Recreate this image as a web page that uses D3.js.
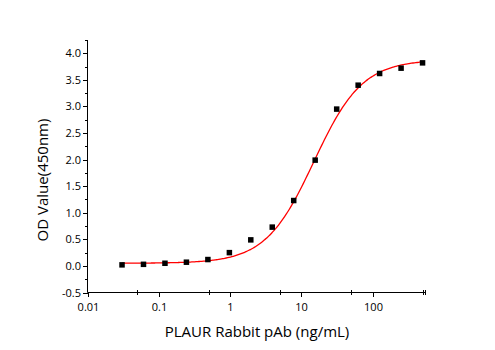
<!DOCTYPE html>
<html><head><meta charset="utf-8">
<script src="https://cdn.jsdelivr.net/npm/d3@7"></script>
<style>body{margin:0;background:#fff}svg{display:block}text{font-family:"Open Sans",sans-serif;fill:#000}</style>
</head><body><svg id="c" width="495" height="350"></svg>
<script>
const concentrations = [0.0305, 0.061, 0.122, 0.244, 0.488, 0.977, 1.95, 3.9, 7.8, 15.6, 31.25, 62.5, 125, 250, 500];
const odValues = [0.02, 0.03, 0.05, 0.07, 0.12, 0.25, 0.49, 0.73, 1.23, 1.99, 2.95, 3.40, 3.62, 3.72, 3.82];
const xTickLabels = ["0.01", "0.1", "1", "10", "100"];
const yTickLabels = ["-0.5","0.0","0.5","1.0","1.5","2.0","2.5","3.0","3.5","4.0"];
// 4PL fit parameters
const fitBottom = 0.05, fitTop = 3.88, fitEC50 = 15, fitHill = 1.28;

const svg = d3.select("#c");
const x = d3.scaleLog().domain([0.01, 550]).range([87.5, 425.5]);
const y = d3.scaleLinear().domain([-0.5, 4.25]).range([292.5, 40]);

const g = svg.append("g");
g.append("line").attr("x1",87.5).attr("x2",87.5).attr("y1",y(4.25)).attr("y2",y(-0.5)).attr("stroke","#000");
g.append("line").attr("x1",87.5).attr("x2",x(550)).attr("y1",292.5).attr("y2",292.5).attr("stroke","#000");

yTickLabels.forEach(t=>{
  const v=+t, yy=Math.round(y(v))+0.5;
  g.append("line").attr("x1",83).attr("x2",88).attr("y1",yy).attr("y2",yy).attr("stroke","#000");
  g.append("text").attr("x",81).attr("y",yy).attr("dy","0.35em").attr("text-anchor","end").attr("font-size",11).text(t);
});
d3.range(-0.25, 4.3, 0.5).forEach(v=>{
  const yy=Math.round(y(v))+0.5;
  g.append("line").attr("x1",85).attr("x2",88).attr("y1",yy).attr("y2",yy).attr("stroke","#000");
});
xTickLabels.forEach(t=>{
  const xx=Math.round(x(+t))+0.5;
  g.append("line").attr("x1",xx).attr("x2",xx).attr("y1",292).attr("y2",297).attr("stroke","#000");
  g.append("text").attr("x",xx).attr("y",311).attr("text-anchor","middle").attr("font-size",11).text(t);
});
[0.05,0.5,5,50,500].forEach(v=>{
  const xx=Math.round(x(v))+0.5;
  g.append("line").attr("x1",xx).attr("x2",xx).attr("y1",290).attr("y2",295).attr("stroke","#000");
});
g.append("line").attr("x1",x(550)).attr("x2",x(550)).attr("y1",290).attr("y2",295).attr("stroke","#000");

svg.append("text").attr("x",257).attr("y",337).attr("text-anchor","middle").attr("font-size",15).text("PLAUR Rabbit pAb (ng/mL)");
svg.append("text").attr("transform","translate(48,180) rotate(-90)").attr("text-anchor","middle").attr("font-size",15).text("OD Value(450nm)");

const f = c => fitTop + (fitBottom - fitTop)/(1+Math.pow(c/fitEC50, fitHill));
const lx = d3.range(Math.log10(concentrations[0]), Math.log10(concentrations[concentrations.length-1])+0.001, 0.02).map(l=>Math.pow(10,l));
svg.append("path").datum(lx).attr("fill","none").attr("stroke","#ff0000").attr("stroke-width",1.3)
  .attr("d", d3.line().x(d=>x(d)).y(d=>y(f(d))).curve(d3.curveMonotoneX));

svg.selectAll("rect.p").data(concentrations).enter().append("rect")
  .attr("x",(d)=>x(d)-2.75).attr("y",(d,i)=>y(odValues[i])-2.75).attr("width",5.5).attr("height",5.5).attr("fill","#000");
</script></body></html>
